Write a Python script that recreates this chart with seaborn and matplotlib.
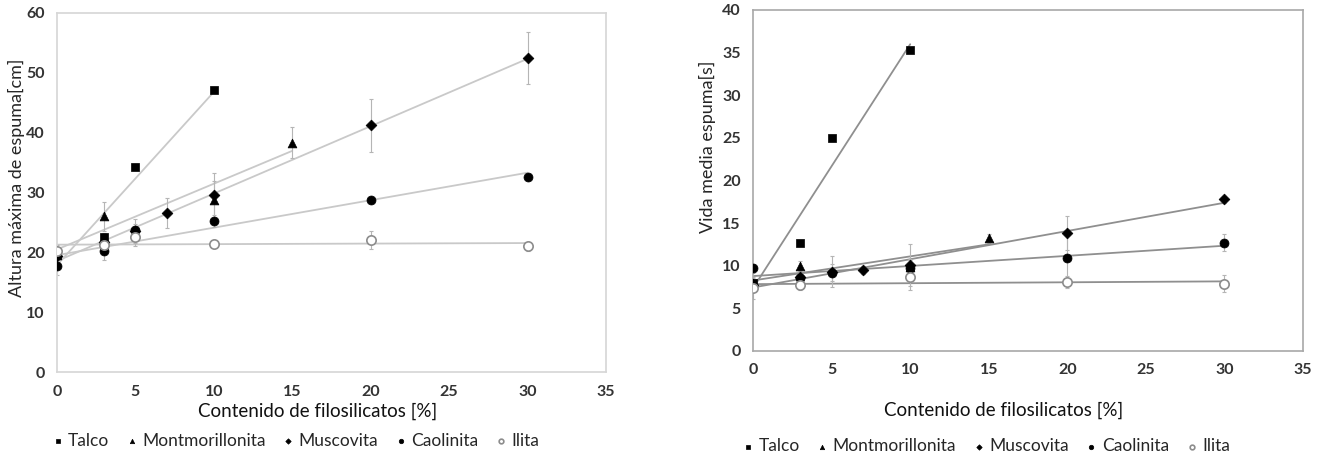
import numpy as np
import pandas as pd
import matplotlib
matplotlib.use("Agg")
import matplotlib.pyplot as plt
import seaborn as sns

minerals = ["Talco", "Montmorillonita", "Muscovita", "Caolinita", "Ilita"]

# Altura maxima de espuma [cm]
talco_x_a = [0, 3, 5, 10]
talco_y_a = [19.8, 22.5, 34.2, 47.1]
talco_e_a = [0.5, 0.6, 0.5, 0.5]
mont_x_a = [0, 3, 10, 15]
mont_y_a = [19.6, 26.0, 28.8, 38.3]
mont_e_a = [0.8, 2.4, 3.2, 2.6]
musc_x_a = [0, 3, 5, 7, 10, 20, 30]
musc_y_a = [19.4, 21.8, 23.5, 26.5, 29.5, 41.2, 52.5]
musc_e_a = [1.0, 1.5, 2.0, 2.5, 3.8, 4.5, 4.3]
caol_x_a = [0, 3, 5, 10, 20, 30]
caol_y_a = [17.7, 20.2, 23.8, 25.3, 28.8, 32.6]
caol_e_a = [1.5, 1.5, 1.0, 1.0, 0.5, 0.5]
ilita_x_a = [0, 3, 5, 10, 20, 30]
ilita_y_a = [20.2, 21.2, 22.5, 21.4, 22.0, 21.0]
ilita_e_a = [1.0, 1.0, 1.5, 0.6, 1.5, 0.8]

# Vida media espuma [s]
talco_x_v = [0, 3, 5, 10]
talco_y_v = [8.0, 12.7, 25.0, 35.3]
talco_e_v = [0.3, 0.3, 0.3, 0.3]
mont_x_v = [0, 3, 10, 15]
mont_y_v = [8.0, 10.0, 9.8, 13.2]
mont_e_v = [0.5, 0.6, 1.0, 0.5]
musc_x_v = [0, 3, 5, 7, 10, 20, 30]
musc_y_v = [7.8, 8.7, 9.3, 9.5, 10.1, 13.8, 17.8]
musc_e_v = [0.8, 0.8, 1.8, 0.5, 2.5, 2.0, 0.4]
caol_x_v = [0, 3, 5, 10, 20, 30]
caol_y_v = [9.7, 8.6, 9.2, 9.7, 10.9, 12.7]
caol_e_v = [0.5, 0.5, 1.0, 1.0, 2.8, 1.0]
ilita_x_v = [0, 3, 10, 20, 30]
ilita_y_v = [7.4, 7.8, 8.7, 8.1, 7.9]
ilita_e_v = [1.3, 0.7, 1.5, 0.7, 1.0]

altura = [(talco_x_a, talco_y_a, talco_e_a), (mont_x_a, mont_y_a, mont_e_a),
          (musc_x_a, musc_y_a, musc_e_a), (caol_x_a, caol_y_a, caol_e_a),
          (ilita_x_a, ilita_y_a, ilita_e_a)]
vida = [(talco_x_v, talco_y_v, talco_e_v), (mont_x_v, mont_y_v, mont_e_v),
        (musc_x_v, musc_y_v, musc_e_v), (caol_x_v, caol_y_v, caol_e_v),
        (ilita_x_v, ilita_y_v, ilita_e_v)]

markers = {"Talco": "s", "Montmorillonita": "^", "Muscovita": "D",
           "Caolinita": "o", "Ilita": "o"}
sizes = {"Talco": 40, "Montmorillonita": 40, "Muscovita": 30,
         "Caolinita": 42, "Ilita": 45}

sns.set_style("white")
plt.rcParams["font.family"] = ["Lato", "DejaVu Sans"]

fig = plt.figure(figsize=(13.26, 4.69), dpi=100)
ax1 = fig.add_axes([0.043, 0.2068, 0.414, 0.7655])
ax2 = fig.add_axes([0.5679, 0.2516, 0.4148, 0.7271])


def panel(ax, series, line_color, frame_color, ymax, ystep):
    for name, (x, y, e) in zip(minerals, series):
        df = pd.DataFrame({"x": x, "y": y})
        sns.regplot(data=df, x="x", y="y", ax=ax, scatter=False, ci=None,
                    truncate=True, line_kws={"color": line_color, "lw": 1.3, "zorder": 1})
        ax.errorbar(x, y, yerr=e, fmt="none", ecolor="#b5b5b5", elinewidth=0.8,
                    capsize=1.5, capthick=0.8, zorder=2)
        open_marker = name == "Ilita"
        sns.scatterplot(data=df, x="x", y="y", ax=ax, marker=markers[name],
                        s=sizes[name], color="white" if open_marker else "black",
                        edgecolor="#8c8c8c" if open_marker else "black",
                        linewidth=1.2 if open_marker else 0.5, label=name, zorder=3)
    ax.set_xlim(0, 35)
    ax.set_ylim(0, ymax)
    ax.set_xticks(range(0, 36, 5))
    ax.set_yticks(range(0, ymax + 1, ystep))
    ax.tick_params(axis="both", direction="out", length=3, width=0.8, color=frame_color,
                   labelsize=11.5, labelcolor="#333333", pad=6)
    for lab in ax.get_xticklabels() + ax.get_yticklabels():
        lab.set_fontweight("bold")
    for sp in ax.spines.values():
        sp.set_color(frame_color)
        sp.set_linewidth(1.2)
    ax.set_xlabel("Contenido de filosilicatos [%]", fontsize=13.5, color="#111111")


panel(ax1, altura, "#c9c9c9", "#d6d6d6", 60, 10)
panel(ax2, vida, "#8f8f8f", "#a8a8a8", 40, 5)

ax1.set_ylabel("Altura máxima de espuma[cm]", fontsize=13)
ax1.yaxis.set_label_coords(-0.058, 0.54)
ax1.xaxis.set_label_coords(0.475, -0.085)
ax2.set_ylabel("Vida media espuma[s]", fontsize=13)
ax2.yaxis.set_label_coords(-0.068, 0.6)
ax2.xaxis.set_label_coords(0.455, -0.148)

for ax, anchor in [(ax1, (-0.04, -0.125)), (ax2, (-0.05, -0.21))]:
    handles, labels = ax.get_legend_handles_labels()
    ax.legend(handles, labels, loc="upper left", bbox_to_anchor=anchor, ncol=5,
              frameon=False, fontsize=12.5, markerscale=0.5, handletextpad=0.2,
              handlelength=0.8, columnspacing=0.9)

fig.savefig("out.png", dpi=100)
